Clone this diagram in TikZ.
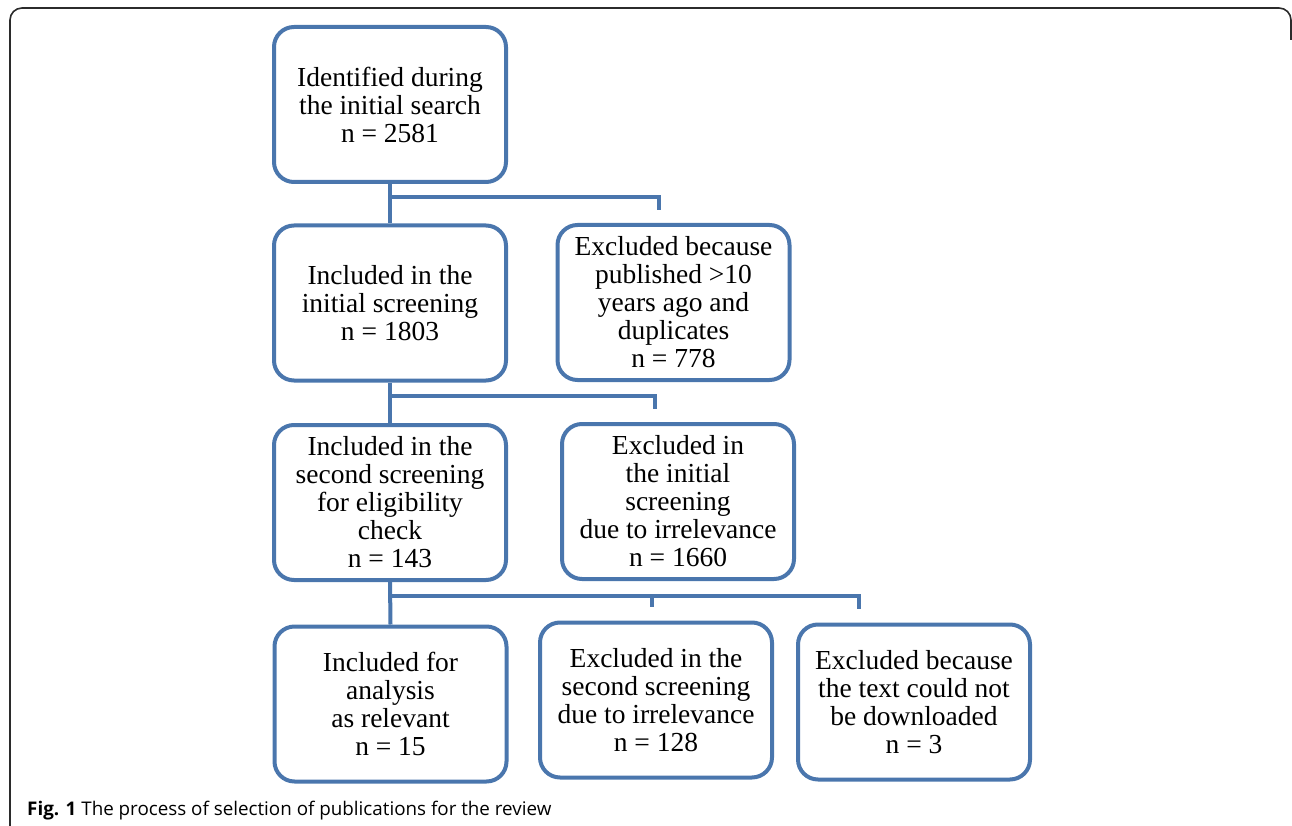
\documentclass[tikz,border=0pt]{standalone}
\usepackage{fontspec}
\setmainfont{Liberation Serif}
\newfontfamily\capfont{Open Sans}
\usetikzlibrary{calc,positioning}
\definecolor{boxblue}{HTML}{4A76AD}
\definecolor{framegray}{HTML}{2B2B2B}
\tikzset{
  stagebox/.style={draw=boxblue,line width=4pt,rounded corners=20pt,fill=white,align=center,
    minimum width=232pt,minimum height=155pt,inner sep=0pt,font=\fontsize{27.5}{28}\selectfont},
  link/.style={boxblue,line width=4pt},
  frame/.style={framegray,line width=1.6pt,rounded corners=12pt},
}
\begin{document}
\begin{tikzpicture}[x=1pt,y=-1pt]
\useasboundingbox (0,0) rectangle (1292,826);
\draw[frame] (10,830) -- (10,8) -- (1291,8) -- (1291,40);
\node[stagebox] (top) at (390,104.5) {Identified during\\the initial search\\n = 2581};
\node[stagebox] (inc1) at (390,303) {Included in the\\initial screening\\n = 1803};
\node[stagebox] (exc1) at (673.5,302.5) {Excluded because\\published >10\\years ago and\\duplicates\\n = 778};
\node[stagebox] (inc2) at (390,502.5) {Included in the\\second screening\\for eligibility\\check\\n = 143};
\node[stagebox] (exc2) at (678,501.5) {Excluded in\\the initial\\screening\\due to irrelevance\\n = 1660};
\node[stagebox] (anal) at (390.5,704) {Included for\\analysis\\as relevant\\n = 15};
\node[stagebox] (exc3) at (656,700) {Excluded in the\\second screening\\due to irrelevance\\n = 128};
\node[stagebox] (exc4) at (914,702) {Excluded because\\the text could not\\be downloaded\\n = 3};
\coordinate (j1) at (390,197);
\coordinate (t1) at (659,210);
\coordinate (j2) at (390,396);
\coordinate (t2) at (655,409);
\coordinate (j3) at (390,596);
\coordinate (t3) at (652,607);
\coordinate (t4) at (859,609);
\draw[link] (top.south) -- (inc1.north);
\draw[link] (j1) -| (t1);
\draw[link] (inc1.south) -- (inc2.north);
\draw[link] (j2) -| (t2);
\draw[link] (inc2.south) -- (anal.north);
\draw[link] (j3) -| (t4);
\draw[link] (t3 |- j3) -- (t3);
\node[anchor=base west,inner sep=0pt,font=\capfont\fontsize{18.8}{22}\selectfont] (cap) at (27,815)
  {\textbf{Fig. 1} The process of selection of publications for the review};
\end{tikzpicture}
\end{document}
